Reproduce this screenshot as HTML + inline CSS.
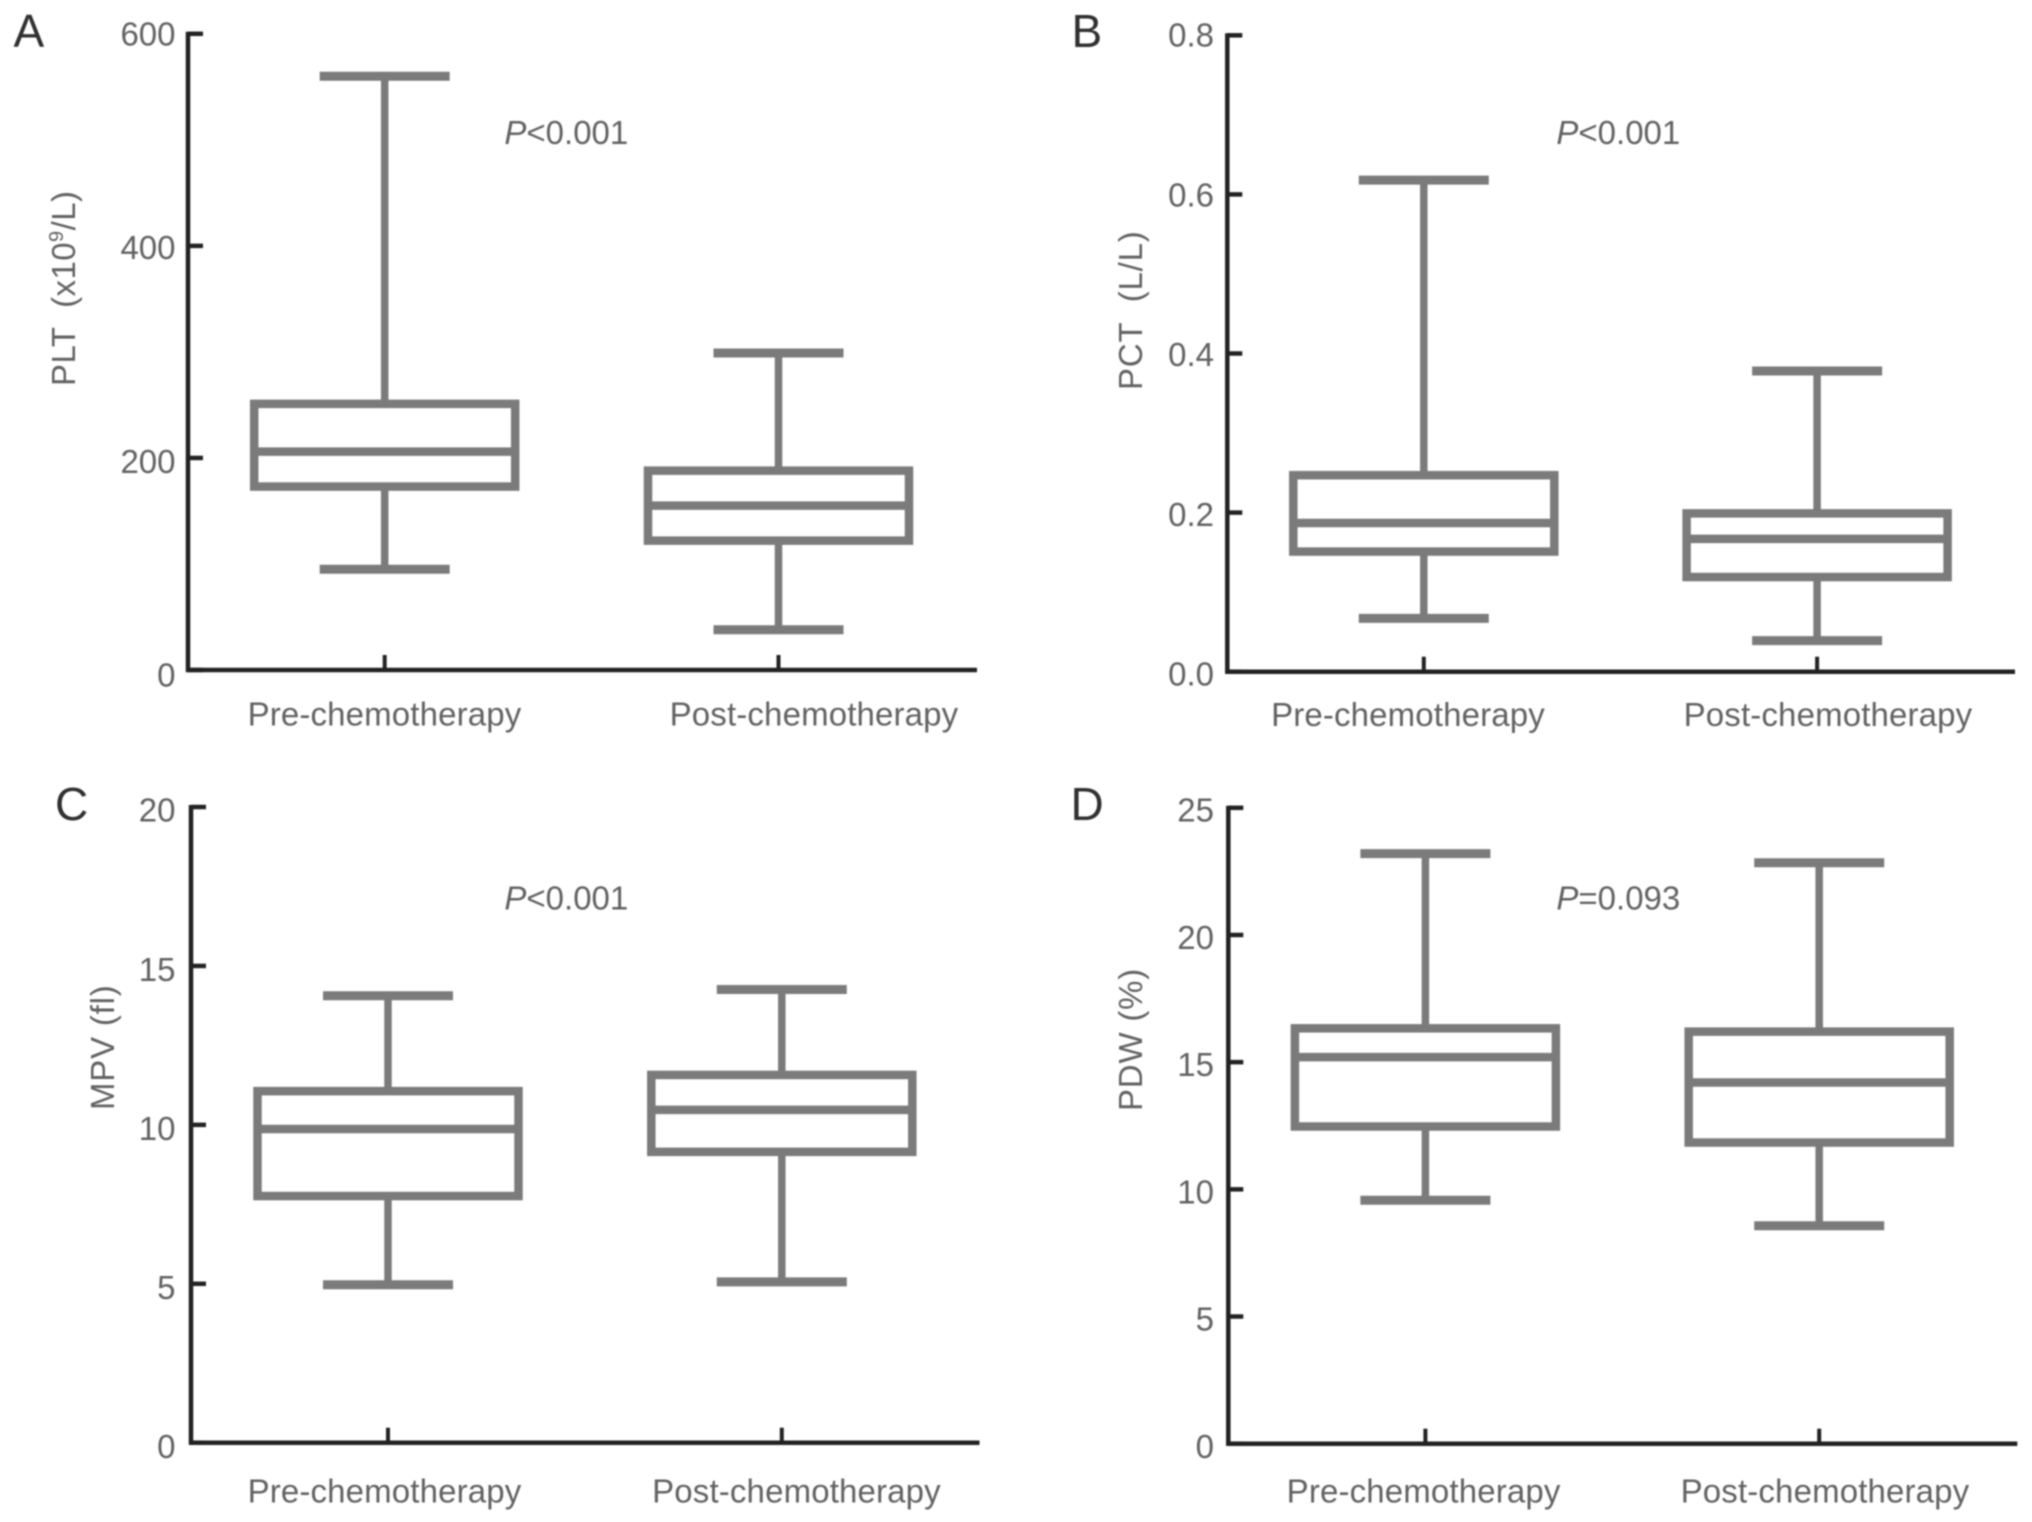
<!DOCTYPE html>
<html lang="en">
<head>
<meta charset="utf-8">
<title>Blood platelet parameters before and after chemotherapy</title>
<style>
html,body{margin:0;padding:0;background:#fff;}
svg{display:block;filter:blur(0.8px);}
text{font-family:"Liberation Sans",sans-serif;font-size:33px;fill:#626262;}
.letter{font-size:46px;fill:#303030;}
.title{letter-spacing:0.8px;}
.title-plt{letter-spacing:0.45px;}
.cat{letter-spacing:0.15px;}
</style>
</head>
<body>
<svg id="figure" width="2032" height="1522" viewBox="0 0 2032 1522" xmlns="http://www.w3.org/2000/svg">
  <rect x="0" y="0" width="2032" height="1522" fill="#fff"/>

  <text class="letter" x="13.5" y="47">A</text>
  <text class="letter" x="1071.5" y="47">B</text>
  <text class="letter" x="55" y="820">C</text>
  <text class="letter" x="1070.5" y="820">D</text>

  <text class="title-plt" xml:space="preserve" style="white-space:pre" transform="translate(75,386) rotate(-90)">PLT  (x10<tspan font-size="20" dy="-12">9</tspan><tspan dy="12">/L)</tspan></text>
  <text class="title" xml:space="preserve" style="white-space:pre" transform="translate(1142,390) rotate(-90)">PCT  (L/L)</text>
  <text class="title" transform="translate(114,1110) rotate(-90)">MPV (fl)</text>
  <text class="title" transform="translate(1142,1111) rotate(-90)">PDW (%)</text>

  <text x="504.4" y="144"><tspan font-style="italic">P</tspan>&lt;0.001</text>
  <text x="1556.4" y="144"><tspan font-style="italic">P</tspan>&lt;0.001</text>
  <text x="504.4" y="909.5"><tspan font-style="italic">P</tspan>&lt;0.001</text>
  <text x="1556.4" y="909.5"><tspan font-style="italic">P</tspan>=0.093</text>
</svg>
<script>
// Chart data: each group is [lower whisker, Q1, median, Q3, upper whisker]
const categories = ["Pre-chemotherapy", "Post-chemotherapy"];

const pltTicks = [0, 200, 400, 600];
const pltTickLabels = ["0", "200", "400", "600"];
const pltPre = [95, 173, 206, 251, 560];
const pltPost = [38, 122, 155, 188, 299];

const pctTicks = [0, 0.2, 0.4, 0.6, 0.8];
const pctTickLabels = ["0.0", "0.2", "0.4", "0.6", "0.8"];
const pctPre = [0.067, 0.151, 0.187, 0.247, 0.618];
const pctPost = [0.039, 0.119, 0.167, 0.199, 0.378];

const mpvTicks = [0, 5, 10, 15, 20];
const mpvTickLabels = ["0", "5", "10", "15", "20"];
const mpvPre = [4.97, 7.76, 9.87, 11.06, 14.06];
const mpvPost = [5.06, 9.15, 10.47, 11.57, 14.26];

const pdwTicks = [0, 5, 10, 15, 20, 25];
const pdwTickLabels = ["0", "5", "10", "15", "20", "25"];
const pdwPre = [9.57, 12.47, 15.2, 16.33, 23.2];
const pdwPost = [8.57, 11.84, 14.2, 16.2, 22.84];

// Panel layout (frame geometry, separate from data)
const panels = [
  {id:"a", ticks:pltTicks, tickLabels:pltTickLabels, groups:[pltPre, pltPost], axisX:188, right:977, top:33.8, base:670, c0:384.7, step:393.8, tickRight:175.5, dyTop:11.7, dyBot:16.7, labelX:[384.5, 814], labelY:725.5},
  {id:"b", ticks:pctTicks, tickLabels:pctTickLabels, groups:[pctPre, pctPost], axisX:1227.3, right:2015, top:35.3, base:671.7, c0:1423.8, step:393.3, tickRight:1214, dyTop:11.2, dyBot:13.8, labelX:[1408, 1828], labelY:726},
  {id:"c", ticks:mpvTicks, tickLabels:mpvTickLabels, groups:[mpvPre, mpvPost], axisX:191, right:979.5, top:807, base:1442.7, c0:388, step:393.8, tickRight:175.5, dyTop:14.6, dyBot:15.5, labelX:[384.5, 796.5], labelY:1502.5},
  {id:"d", ticks:pdwTicks, tickLabels:pdwTickLabels, groups:[pdwPre, pdwPost], axisX:1228.3, right:2017.3, top:807.8, base:1443.7, c0:1425.4, step:393.8, tickRight:1214, dyTop:13.7, dyBot:14.3, labelX:[1423.6, 1825], labelY:1502.5}
];

const AXIS_COLOR = "#222";
const MARK_COLOR = "#7b7b7b";
const svg = document.getElementById("figure");
const NS = "http://www.w3.org/2000/svg";

function line(x1, y1, x2, y2, color, width) {
  const el = document.createElementNS(NS, "line");
  el.setAttribute("x1", x1);
  el.setAttribute("y1", y1);
  el.setAttribute("x2", x2);
  el.setAttribute("y2", y2);
  el.setAttribute("stroke", color);
  el.setAttribute("stroke-width", width);
  svg.appendChild(el);
  return el;
}

function label(x, y, anchor, str) {
  const el = document.createElementNS(NS, "text");
  el.setAttribute("x", x);
  el.setAttribute("y", y);
  el.setAttribute("text-anchor", anchor);
  el.textContent = str;
  svg.appendChild(el);
  return el;
}

panels.forEach(function (p) {
  const maxTick = p.ticks[p.ticks.length - 1];
  const yScale = function (v) { return p.base - (v / maxTick) * (p.base - p.top); };
  const xScale = function (i) { return p.c0 + i * p.step; };

  // Box-and-whisker marks
  p.groups.forEach(function (g, i) {
    const cx = xScale(i);
    const suffix = p.id + "-" + (i === 0 ? "pre" : "post");

    const whiskerHigh = line(cx, yScale(g[4]), cx, yScale(g[3]), MARK_COLOR, 7.5);
    
    

    const whiskerLow = line(cx, yScale(g[1]), cx, yScale(g[0]), MARK_COLOR, 7.5);
    
    

    const capHigh = line(cx - 65, yScale(g[4]), cx + 65, yScale(g[4]), MARK_COLOR, 9);
    
    

    const capLow = line(cx - 65, yScale(g[0]), cx + 65, yScale(g[0]), MARK_COLOR, 9);
    
    

    const box = document.createElementNS(NS, "rect");
    box.setAttribute("x", cx - 130.5);
    box.setAttribute("y", yScale(g[3]));
    box.setAttribute("width", 261);
    box.setAttribute("height", yScale(g[1]) - yScale(g[3]));
    box.setAttribute("fill", "#fff");
    box.setAttribute("stroke", MARK_COLOR);
    box.setAttribute("stroke-width", 8.5);
    
    
    svg.appendChild(box);

    const median = line(cx - 130.5, yScale(g[2]), cx + 130.5, yScale(g[2]), MARK_COLOR, 8.5);
    
    
  });

  // Axes
  const yAxis = line(p.axisX, p.top - 2, p.axisX, p.base + 2, AXIS_COLOR, 4.5);
  
  

  const xAxis = line(p.axisX - 2, p.base, p.right, p.base, AXIS_COLOR, 4.5);
  
  

  // Y ticks and labels
  p.ticks.forEach(function (t, i) {
    const y = yScale(t);
    const tick = line(p.axisX, y, p.axisX + 15, y, AXIS_COLOR, 4.5);
    
    

    const dy = p.dyTop + (p.dyBot - p.dyTop) * (1 - t / maxTick);
    const tl = label(p.tickRight, y + dy, "end", p.tickLabels[i]);
    
    
  });

  // X ticks and category labels
  categories.forEach(function (c, i) {
    const cx = xScale(i);
    const tick = line(cx, p.base, cx, p.base - 15, AXIS_COLOR, 4);
    
    

    const cl = label(p.labelX[i], p.labelY, "middle", c);
    cl.setAttribute("class", "cat");
    
    
  });
});
</script>
</body>
</html>
